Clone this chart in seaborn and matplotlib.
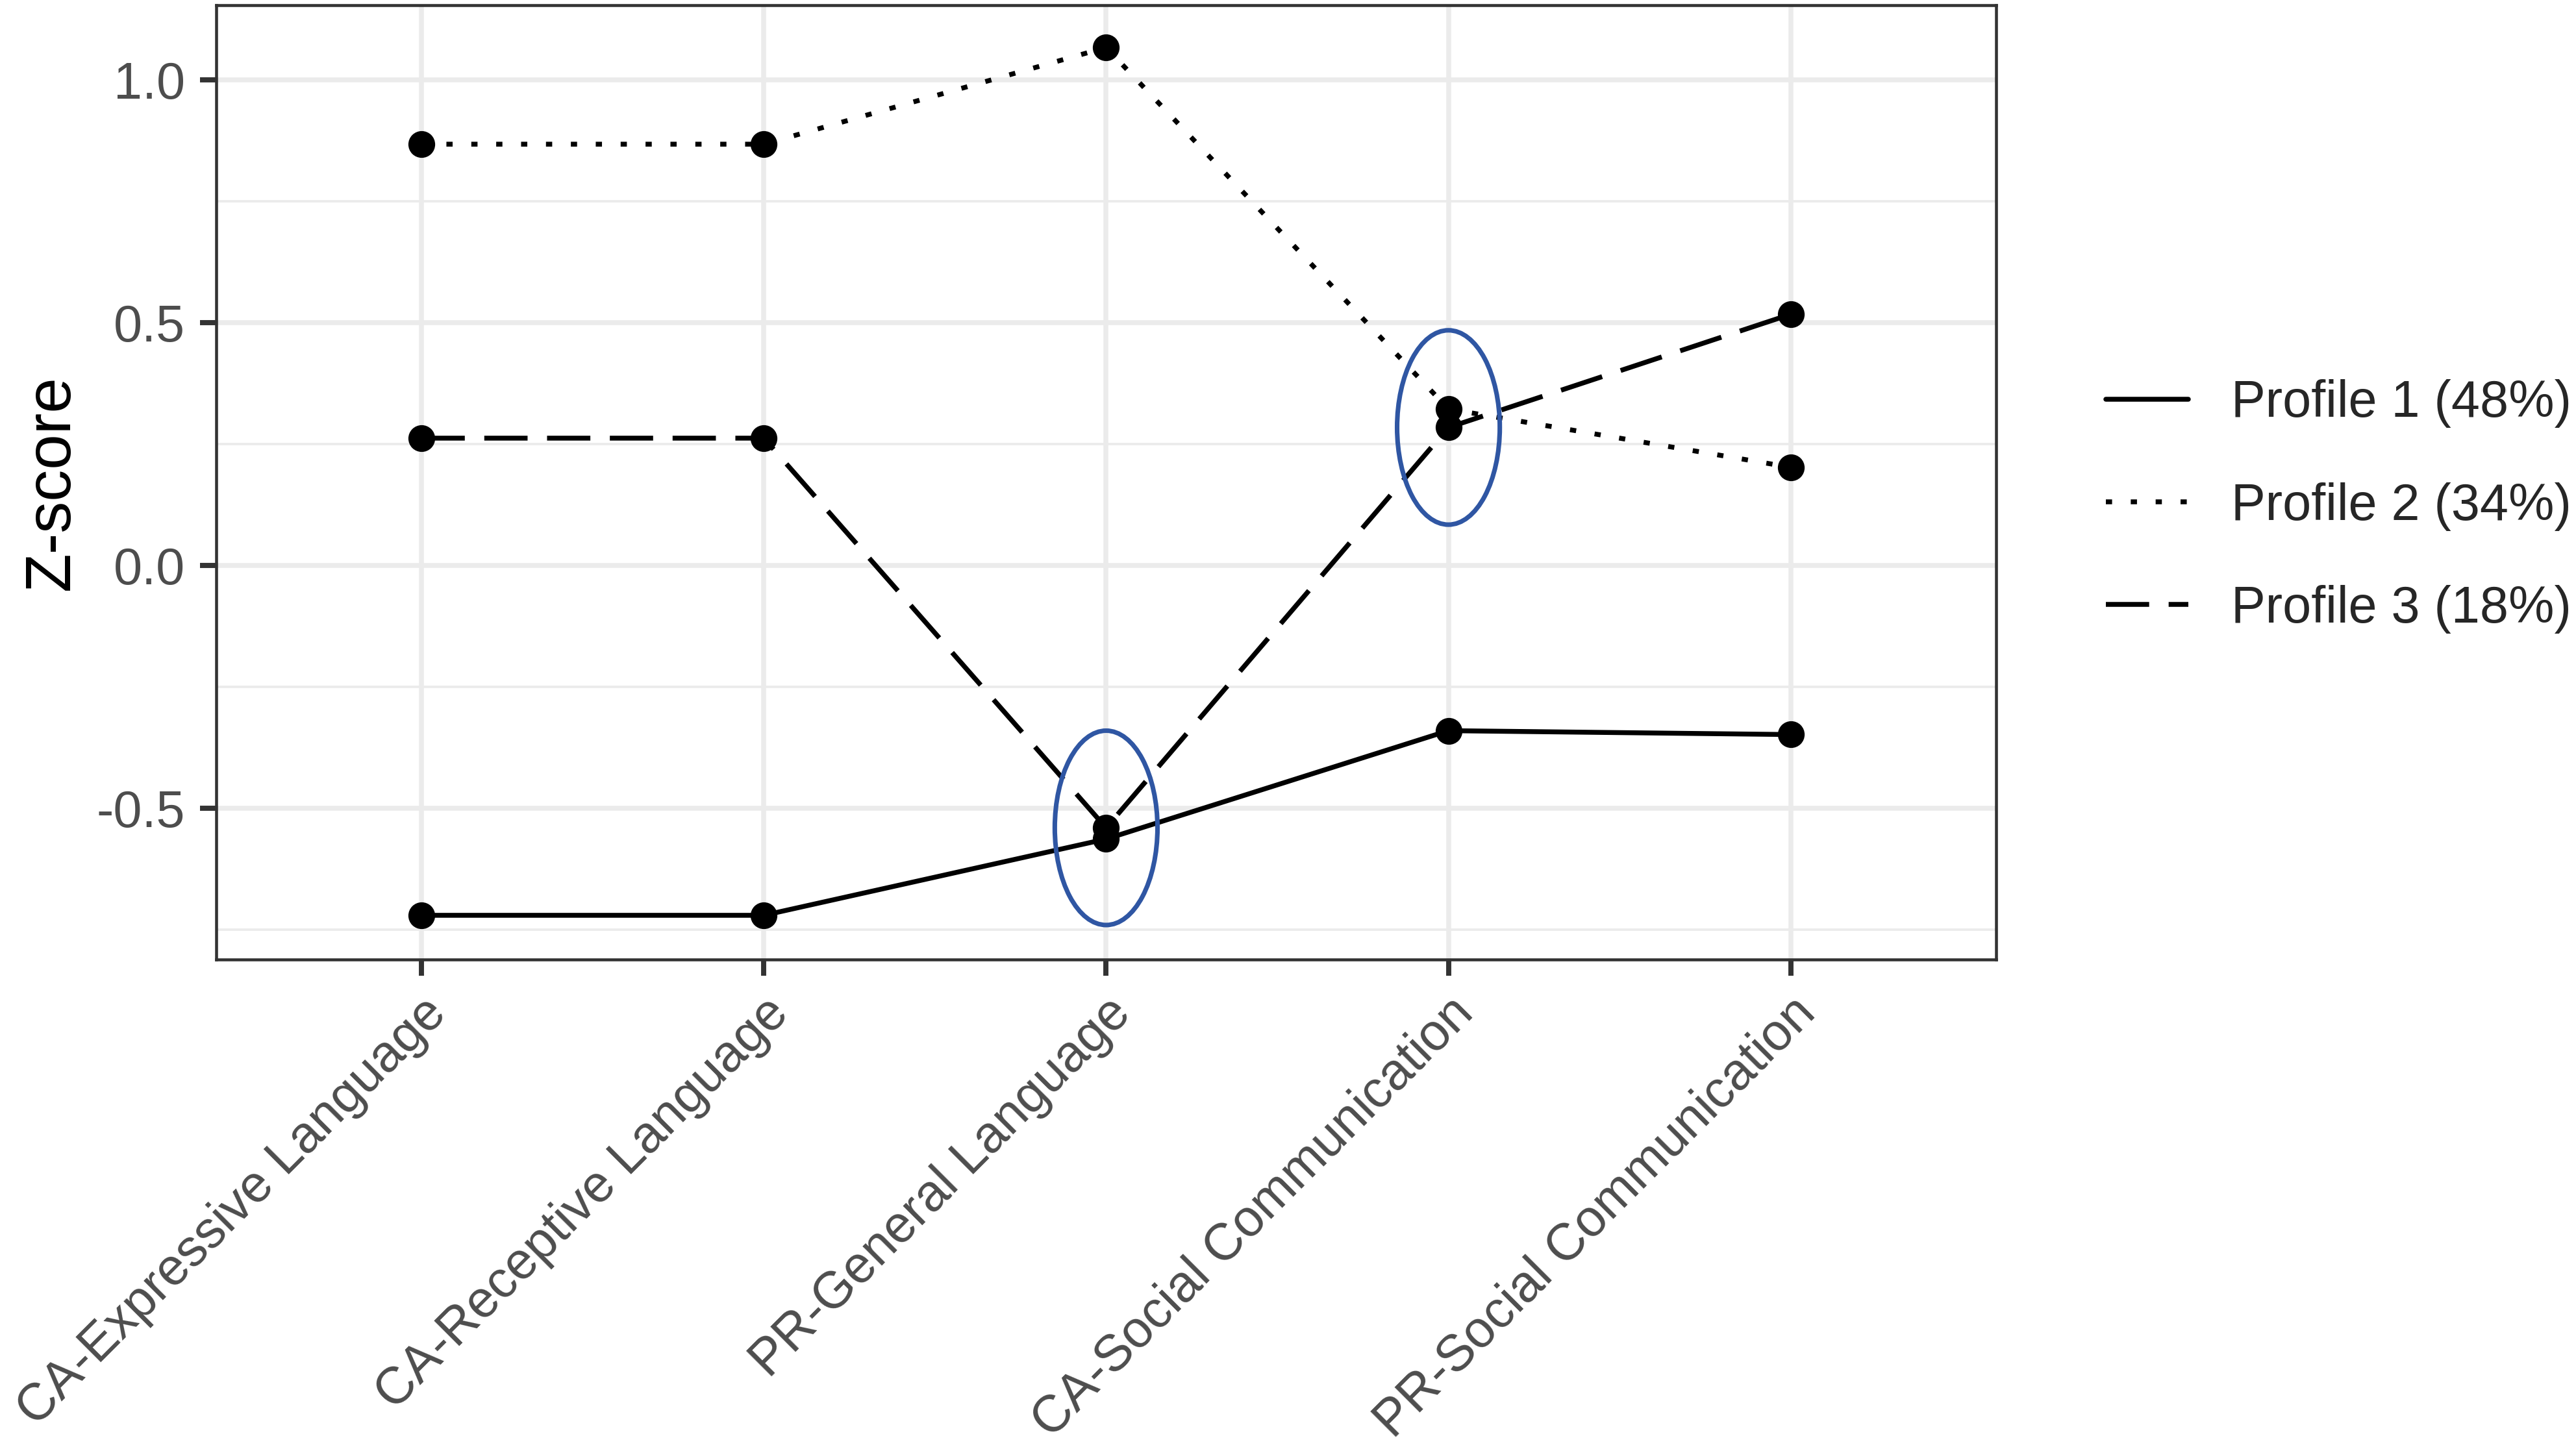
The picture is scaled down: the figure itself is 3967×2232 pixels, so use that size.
import matplotlib
matplotlib.use("Agg")
import matplotlib.pyplot as plt
from matplotlib.lines import Line2D
from matplotlib.patches import Ellipse
from matplotlib.ticker import MultipleLocator
import pandas as pd
import seaborn as sns

# values
measures = ["CA-Expressive Language", "CA-Receptive Language", "PR-General Language",
            "CA-Social Communication", "PR-Social Communication"]
profiles = ["Profile 1 (48%)", "Profile 2 (34%)", "Profile 3 (18%)"]
profile1 = [-0.720, -0.720, -0.563, -0.340, -0.348]
profile2 = [0.867, 0.867, 1.066, 0.322, 0.202]
profile3 = [0.262, 0.262, -0.540, 0.284, 0.517]
y_ticks = [-0.5, 0.0, 0.5, 1.0]
circled = ["PR-General Language", "CA-Social Communication"]

df = pd.DataFrame({
    "measure": measures * 3,
    "z": profile1 + profile2 + profile3,
    "profile": [p for p in profiles for _ in measures],
})

sns.set_theme(style="whitegrid")
plt.rcParams["font.family"] = ["Liberation Sans", "DejaVu Sans"]
plt.rcParams["lines.scale_dashes"] = False

lw = 1.8
dash_styles = {
    profiles[0]: "",
    profiles[1]: (2.3, 6.9),
    profiles[2]: (16, 7.2),
}

fig = plt.figure(figsize=(3967 / 300, 2232 / 300), dpi=300)
ax = fig.add_axes([0.0839, 0.3378, 0.6910, 0.6586])

sns.lineplot(data=df, x="measure", y="z", style="profile", dashes=dash_styles,
             color="black", linewidth=lw, sort=False, legend=False, ax=ax)
for line in ax.lines:
    line.set_dash_capstyle("butt")
sns.scatterplot(data=df, x="measure", y="z", color="black", s=98,
                linewidth=0, zorder=4, legend=False, ax=ax)

# blue circles around the overlapping points
for m in circled:
    i = measures.index(m)
    ax.add_patch(Ellipse((i, profile3[i]), width=0.30, height=0.40, fill=False,
                         edgecolor="#2F56A3", linewidth=1.7, zorder=5))

ax.set_xlim(-0.6, len(measures) - 0.4)
ax.set_ylim(-0.811, 1.153)
ax.set_yticks(y_ticks)
ax.set_yticklabels([f"{v:.1f}" for v in y_ticks])
ax.yaxis.set_minor_locator(MultipleLocator(0.25))

ax.set_axisbelow(True)
ax.grid(which="major", color="#EBEBEB", linewidth=1.8)
ax.grid(which="minor", axis="y", color="#EBEBEB", linewidth=0.9)
ax.tick_params(which="minor", length=0)
ax.tick_params(axis="both", which="major", direction="out", length=6, width=1.9,
               color="#333333", labelcolor="#4D4D4D", bottom=True, left=True)
ax.tick_params(axis="y", labelsize=19, pad=5.5)
ax.tick_params(axis="x", labelsize=19, pad=4.7)
for lab in ax.get_xticklabels():
    lab.set_rotation(45)
    lab.set_ha("right")
    lab.set_va("top")
    lab.set_rotation_mode("anchor")

for sp in ax.spines.values():
    sp.set_visible(True)
    sp.set_color("#333333")
    sp.set_linewidth(1.1)

ax.set_xlabel("")
ax.set_ylabel("Z-score", fontsize=23.5, color="black")
ax.yaxis.set_label_coords(-0.0755, 0.5)

handles = [Line2D([0], [0], color="black", linewidth=lw, dash_capstyle="butt",
                  linestyle="-" if dash_styles[p] == "" else (0, dash_styles[p]))
           for p in profiles]
fig.legend(handles, profiles, loc="center left", bbox_to_anchor=(0.8175, 0.6505),
           frameon=False, fontsize=19, handlelength=1.6, handletextpad=0.84,
           labelspacing=1.05, borderpad=0, borderaxespad=0)

fig.savefig("out.png", dpi=300, facecolor="white")
